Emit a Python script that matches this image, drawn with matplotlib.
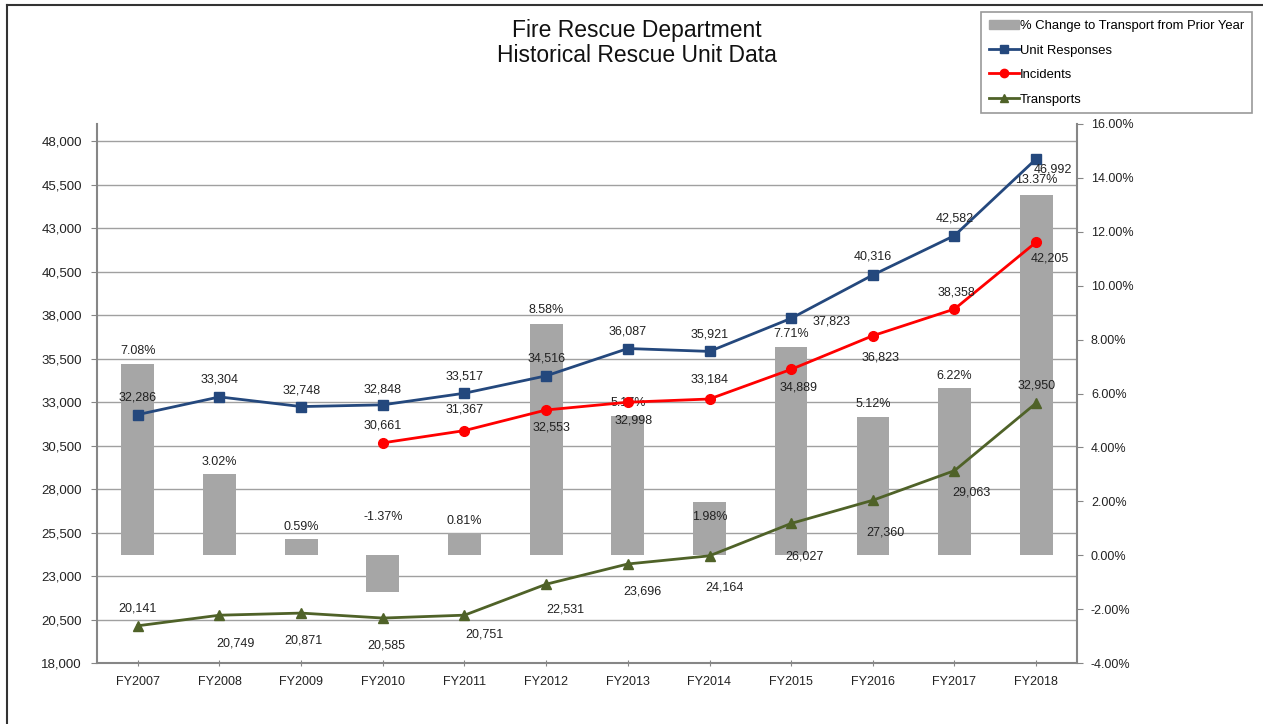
import matplotlib.pyplot as plt
from matplotlib.lines import Line2D
from matplotlib.patches import Patch

plt.rcParams['font.family'] = ['Liberation Sans', 'DejaVu Sans']

years = ['FY2007', 'FY2008', 'FY2009', 'FY2010', 'FY2011', 'FY2012',
         'FY2013', 'FY2014', 'FY2015', 'FY2016', 'FY2017', 'FY2018']
unit_responses = [32286, 33304, 32748, 32848, 33517, 34516,
                  36087, 35921, 37823, 40316, 42582, 46992]
# incidents start in FY2010
incident_years = years[3:]
incidents = [30661, 31367, 32553, 32998, 33184, 34889, 36823, 38358, 42205]
transports = [20141, 20749, 20871, 20585, 20751, 22531,
              23696, 24164, 26027, 27360, 29063, 32950]
pct_change = [7.08, 3.02, 0.59, -1.37, 0.81, 8.58,
              5.17, 1.98, 7.71, 5.12, 6.22, 13.37]

# label offsets in pixels (dx, dy) copied from the layout of the original
ur_off = [(0, 17), (0, 17), (0, 16), (0, 15), (0, 17), (0, 17),
          (0, 17), (0, 17), (40, -3), (0, 18), (0, 17), (17, -11)]
inc_off = [(0, 17), (0, 21), (5, -18), (6, -18), (0, 19), (7, -18),
           (8, -22), (2, 17), (14, -16)]
tr_off = [(0, 17), (16, -28), (2, -27), (3, -27), (20, -19), (19, -25),
          (15, -28), (15, -32), (13, -33), (13, -32), (17, -22), (0, 18)]
pct_off = [(0, 13), (0, 12), (0, 12), (0, 75), (0, 12), (0, 14),
           (0, 13), (0, -15), (0, 13), (0, 13), (0, 12), (0, 15)]

blue = '#24487d'
red = '#ff0000'
green = '#4f6228'
bar_gray = '#a6a6a6'
axis_gray = '#868686'
grid_gray = '#a0a0a0'

fig = plt.figure(figsize=(12.63, 7.24), dpi=100)
ax = fig.add_axes([97 / 1263, 1 - 663 / 724, 980 / 1263, 539 / 724])
ax2 = ax.twinx()
ax.set_zorder(2)
ax2.set_zorder(1)
ax.patch.set_visible(False)

x = list(range(len(years)))
x_inc = [years.index(y) for y in incident_years]

ax.set_xlim(-0.5, len(years) - 0.5)
ax.set_ylim(18000, 49000)
ax2.set_ylim(-4, 16)
left_ticks = list(range(18000, 48001, 2500))

# gridlines behind the bars
for t in left_ticks[1:]:
    ax2.plot([-0.5, len(years) - 0.5], [t, t], color=grid_gray, lw=1,
             transform=ax.transData, zorder=0, scalex=False, scaley=False)

ax2.bar(x, pct_change, width=0.4, color=bar_gray, zorder=2,
        label='% Change to Transport from Prior Year')
for i, v in enumerate(pct_change):
    ax2.annotate(f'{v:.2f}%', (x[i], v), xytext=pct_off[i],
                 textcoords='offset pixels', ha='center', va='center',
                 fontsize=9, color='#222222', zorder=3)

ax.plot(x, unit_responses, color=blue, lw=2, marker='s', ms=7,
        label='Unit Responses', zorder=4)
ax.plot(x_inc, incidents, color=red, lw=2, marker='o', ms=7,
        label='Incidents', zorder=4)
ax.plot(x, transports, color=green, lw=2, marker='^', ms=7.5,
        label='Transports', zorder=4)

for xs, vals, offs in [(x, unit_responses, ur_off),
                       (x_inc, incidents, inc_off),
                       (x, transports, tr_off)]:
    for xi, v, o in zip(xs, vals, offs):
        ax.annotate(f'{v:,}', (xi, v), xytext=o, textcoords='offset pixels',
                    ha='center', va='center', fontsize=9, color='#222222',
                    zorder=5)

ax.set_yticks(left_ticks)
ax.set_yticklabels([f'{t:,}' for t in left_ticks])
ax.set_xticks(x)
ax.set_xticklabels(years)
ax2.set_yticks(range(-4, 17, 2))
ax2.set_yticklabels([f'{t:.2f}%' for t in range(-4, 17, 2)])

for a in (ax, ax2):
    for s in a.spines.values():
        s.set_color(axis_gray)
        s.set_linewidth(1.5)
    a.spines['top'].set_visible(False)
ax.spines['right'].set_visible(False)
ax2.spines['left'].set_visible(False)
ax2.spines['bottom'].set_visible(False)

ax.tick_params(axis='y', length=4, color=axis_gray, labelsize=9.5, pad=7,
               labelcolor='#222222')
ax.tick_params(axis='x', length=5, direction='inout', color=axis_gray,
               labelsize=9, pad=7, labelcolor='#222222')
ax2.tick_params(axis='y', length=4, color=axis_gray, labelsize=9, pad=6,
                labelcolor='#222222')

fig.text(637 / 1263, 1 - 30 / 724, 'Fire Rescue Department', ha='center',
         va='center', fontsize=16.5, color='#111111')
fig.text(637 / 1263, 1 - 56 / 724, 'Historical Rescue Unit Data',
         ha='center', va='center', fontsize=16.5, color='#111111')

handles = [
    Patch(color=bar_gray, label='% Change to Transport from Prior Year'),
    Line2D([], [], color=blue, lw=2, marker='s', ms=6, label='Unit Responses'),
    Line2D([], [], color=red, lw=2, marker='o', ms=6, label='Incidents'),
    Line2D([], [], color=green, lw=2, marker='^', ms=6, label='Transports'),
]
leg = fig.legend(handles=handles, loc='upper left',
                 bbox_to_anchor=(981 / 1263, 1 - 12 / 724), borderaxespad=0,
                 fontsize=9.4, frameon=True, fancybox=False, handlelength=2.3,
                 handletextpad=0.1, labelspacing=0.95, borderpad=0.6,
                 numpoints=1)
leg.get_frame().set_edgecolor('#808080')
leg.get_frame().set_linewidth(1.2)

# outer chart border (top and left edges visible in the original)
fig.add_artist(Line2D([7 / 1263, 1], [1 - 5 / 724, 1 - 5 / 724],
                      transform=fig.transFigure, color='#333333', lw=1.5))
fig.add_artist(Line2D([7 / 1263, 7 / 1263], [0, 1 - 5 / 724],
                      transform=fig.transFigure, color='#333333', lw=1.5))

fig.savefig('out.png', dpi=100)
